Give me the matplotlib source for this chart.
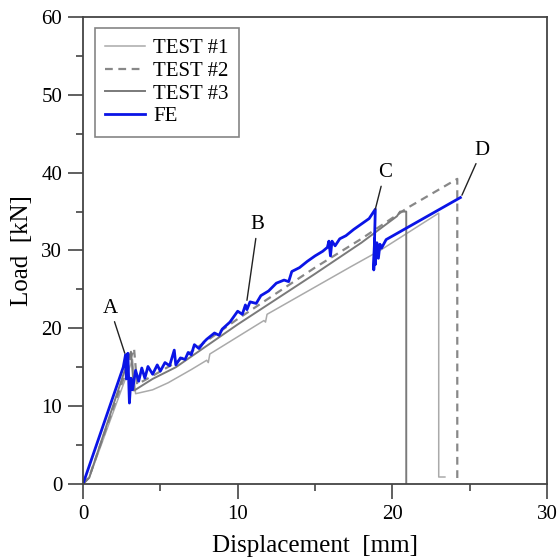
import matplotlib.pyplot as plt
import numpy as np

# Load-displacement curves
test1_x = [0.0, 0.4, 3.2, 3.4, 4.5, 5.5, 7.0, 8.0, 8.1, 8.2, 11.7, 11.8, 11.9,
           17.3, 19.2, 23.0, 23.0, 23.4]
test1_y = [0.0, 0.8, 16.0, 11.6, 12.1, 13.0, 14.7, 15.9, 15.6, 16.7, 21.0, 20.8,
           21.8, 27.9, 30.0, 34.8, 0.9, 0.9]

test2_x = [0.0, 0.4, 3.3, 3.5, 4.5, 6.0, 10.0, 15.0, 18.0, 21.0, 24.2, 24.2, 24.4]
test2_y = [0.0, 0.9, 17.4, 12.8, 13.9, 15.6, 21.2, 27.8, 31.5, 35.5, 39.2, 0.6, 0.5]

test3_x = [0.0, 0.4, 3.1, 3.3, 4.5, 6.0, 10.0, 15.0, 18.0, 20.3, 20.5, 20.9, 20.9]
test3_y = [0.0, 0.8, 17.0, 12.0, 13.5, 15.0, 20.5, 27.0, 31.0, 34.4, 35.0, 35.0, 0.0]

fe_x = [0.0, 2.6, 2.75, 2.8, 2.9, 3.0, 3.1, 3.2, 3.4, 3.6, 3.8, 4.0, 4.2, 4.5,
        4.8, 5.0, 5.3, 5.6, 5.9, 6.0, 6.3, 6.6, 6.8, 7.0, 7.2, 7.5, 7.8, 8.0,
        8.5, 8.8, 9.0, 9.5, 10.0, 10.3, 10.5, 10.6, 10.8, 11.2, 11.5, 12.0,
        12.5, 13.0, 13.3, 13.5, 14.0, 14.5, 15.0, 15.5, 15.8, 15.9, 16.0,
        16.1, 16.3, 16.6, 17.0, 17.5, 18.0, 18.5, 18.9, 18.8, 18.85, 18.9,
        19.0, 19.1, 19.2, 19.3, 19.6, 24.4]
fe_y = [0.0, 15.0, 16.6, 13.5, 16.8, 10.4, 13.6, 12.1, 14.6, 13.2, 14.9, 13.6,
        15.1, 14.1, 15.3, 14.5, 15.6, 15.2, 17.2, 15.3, 16.2, 16.0, 16.9, 16.6,
        17.9, 17.4, 18.2, 18.6, 19.4, 19.1, 19.9, 20.8, 22.2, 21.8, 23.0, 22.4,
        23.4, 23.2, 24.2, 24.8, 25.8, 26.2, 26.0, 27.3, 27.8, 28.6, 29.3,
        29.9, 30.4, 31.2, 29.3, 31.2, 30.6, 31.5, 31.9, 32.7, 33.4, 34.1,
        35.3, 27.5, 31.5, 28.2, 31.0, 29.0, 30.8, 30.3, 31.4, 36.8]

# annotation letters: (text x, text y, point x, point y)
labels = ['A', 'B', 'C', 'D']
label_xy = [(1.75, 22.6), (11.3, 33.3), (19.5, 40.0), (25.8, 42.9)]
label_pt = [(2.7, 16.8), (10.6, 23.6), (18.9, 35.3), (24.5, 37.1)]

plt.rcParams['font.family'] = ['Liberation Serif', 'DejaVu Serif']

fig = plt.figure(figsize=(5.59, 5.58), dpi=100)
ax = fig.add_axes([0.1485, 0.1326, 0.830, 0.837])

ax.plot(test1_x, test1_y, color='#aaaaaa', lw=1.1, label='TEST #1')
ax.plot(test2_x, test2_y, color='#888888', lw=1.6, ls=(0, (3.5, 2.5)), label='TEST #2')
ax.plot(test3_x, test3_y, color='#7a7a7a', lw=1.4, label='TEST #3')
ax.plot(fe_x, fe_y, color='#0a14e6', lw=2.0, label='FE')

for lab, (tx, ty), (px, py) in zip(labels, label_xy, label_pt):
    ax.annotate(lab, xy=(px, py), xytext=(tx, ty), fontsize=15,
                ha='center', va='center',
                arrowprops=dict(arrowstyle='-', color='#222222', lw=1.0,
                                shrinkA=1, shrinkB=0))

ax.set_xlim(0, 30)
ax.set_ylim(0, 60)
ax.set_xticks([0, 10, 20, 30])
ax.set_xticks([5, 15, 25], minor=True)
ax.set_yticks(range(0, 61, 10))
ax.set_yticks(range(5, 60, 10), minor=True)
ax.tick_params(which='major', direction='out', length=11, width=1.2,
               labelsize=15, color='#444444', pad=4)
ax.tick_params(which='minor', direction='out', length=5, width=1.2,
               color='#444444')
for s in ax.spines.values():
    s.set_color('#444444')
    s.set_linewidth(1.3)

ax.set_xlabel('Displacement  [mm]', fontsize=18, labelpad=8)
ax.set_ylabel('Load  [kN]', fontsize=18, labelpad=6)

leg = ax.legend(loc='upper left', bbox_to_anchor=(0.026, 0.976), borderaxespad=0,
                fontsize=15, frameon=True, fancybox=False, handlelength=1.9,
                handletextpad=0.4, labelspacing=0.15, borderpad=0.5)
leg.get_frame().set_edgecolor('#666666')
leg.get_frame().set_linewidth(1.2)

fig.savefig('out.png', dpi=100)
